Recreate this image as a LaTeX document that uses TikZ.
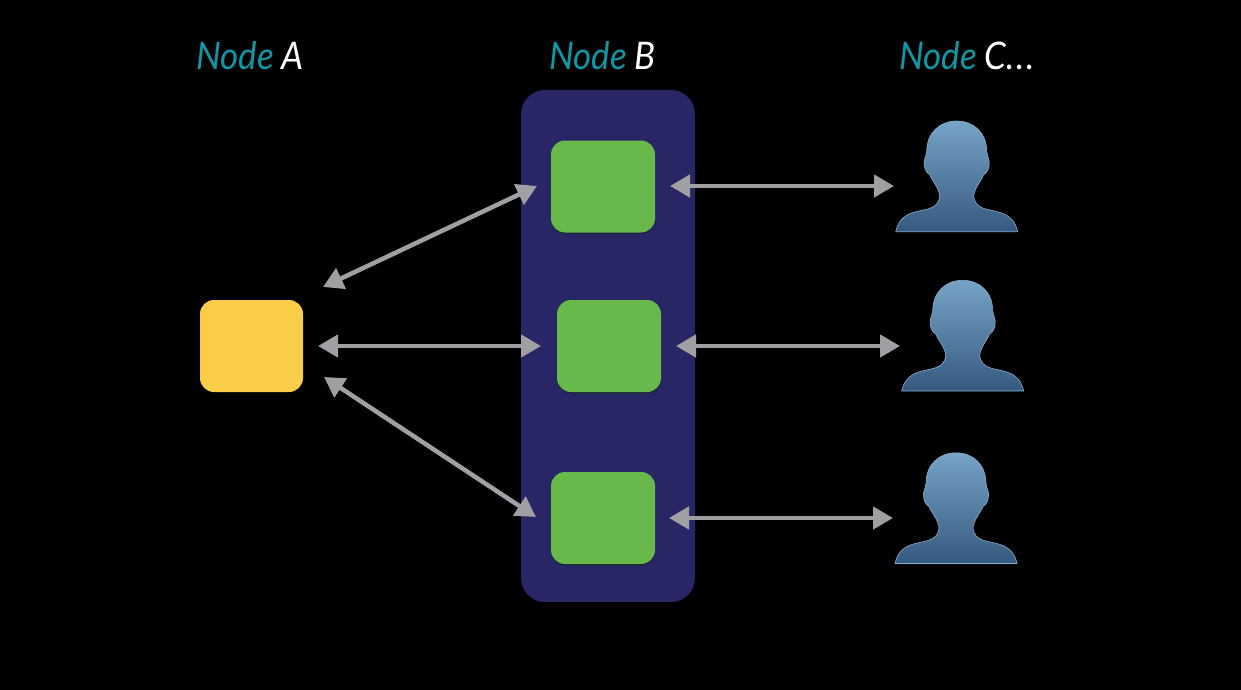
\documentclass[tikz,border=0pt]{standalone}
\usepackage{fontspec}
\setmainfont{Lato}
\usetikzlibrary{arrows.meta}
\definecolor{bgc}{HTML}{000000}
\definecolor{panelc}{HTML}{292666}
\definecolor{greenc}{HTML}{69B84C}
\definecolor{greenshadow}{HTML}{16263A}
\definecolor{yellowc}{HTML}{F9CD48}
\definecolor{arrowc}{HTML}{A0A0A4}
\definecolor{tealc}{HTML}{0F97A5}
\definecolor{persontop}{HTML}{76A3C6}
\definecolor{personbot}{HTML}{36597F}
\definecolor{personedge}{HTML}{86AFCF}
\tikzset{
  panelbox/.style={fill=panelc,rounded corners=24pt,minimum width=174pt,minimum height=512pt,inner sep=0pt},
  greenbox/.style={fill=greenc,rounded corners=14pt,minimum width=104pt,minimum height=92pt,inner sep=0pt},
  greenback/.style={fill=greenshadow,rounded corners=14pt,minimum width=104pt,minimum height=92pt,inner sep=0pt},
  yellowbox/.style={fill=yellowc,rounded corners=14pt,minimum width=103pt,minimum height=92pt,inner sep=0pt},
  link/.style={draw=arrowc,line width=4.5pt,{Triangle[length=20pt,width=22pt]}-{Triangle[length=20pt,width=22pt]}},
  title/.style={inner sep=0pt,anchor=center,text=tealc,font=\itshape\fontsize{38}{38}\selectfont,xscale=.92},
  person/.pic={
    \path[top color=persontop,bottom color=personbot,draw=personedge,line width=.6pt,line join=round]
      (-61,0) .. controls (-59,-9) and (-54,-16) .. (-44,-19)
      .. controls (-33,-23) and (-18,-21) .. (-17,-36)
      .. controls (-18,-44) and (-24,-50) .. (-27,-57)
      .. controls (-31,-59) and (-33,-65) .. (-32.5,-70)
      .. controls (-32,-75) and (-30,-76) .. (-30,-80)
      .. controls (-30,-99) and (-17,-110.7) .. (0,-110.7)
      .. controls (17,-110.7) and (30,-99) .. (30,-80)
      .. controls (30,-76) and (32,-75) .. (32.5,-70)
      .. controls (33,-65) and (31,-59) .. (27,-57)
      .. controls (24,-50) and (18,-44) .. (17,-36)
      .. controls (18,-21) and (33,-23) .. (44,-19)
      .. controls (54,-16) and (59,-9) .. (61,0) -- cycle;
  }
}
\begin{document}
\begin{tikzpicture}[x=1pt,y=-1pt]
\fill[bgc] (0,0) rectangle (1241,690);
\useasboundingbox (0,0) rectangle (1241,690);

\node[title] (ta) at (250,56) {Node \textcolor{white}{A}};
\node[title] (tb) at (602.5,56) {Node \textcolor{white}{B}};
\node[title] (tc) at (967,56) {Node \textcolor{white}{C.\kern2pt.\kern2pt.}};

\node[panelbox] (panel) at (608,346) {};
\node[yellowbox] (a) at (251.5,346) {};
\node[greenback] (b1s) at (603,188) {};
\node[greenback] (b2s) at (609,347.5) {};
\node[greenback] (b3s) at (603,519.5) {};
\node[greenbox] (b1) at (603,186.5) {};
\node[greenbox] (b2) at (609,346) {};
\node[greenbox] (b3) at (603,518) {};

\pic (p1) at (956.7,231.7) {person};
\pic (p2) at (962.7,391) {person};
\pic (p3) at (956,563.5) {person};

\coordinate (a1) at (323,287);
\coordinate (a2) at (318,346);
\coordinate (a3) at (324,377);
\coordinate (b1l) at (537,186);
\coordinate (b2l) at (541,346);
\coordinate (b3l) at (536,517);
\coordinate (b1r) at (670,186);
\coordinate (b2r) at (676,346);
\coordinate (b3r) at (669,518);
\coordinate (c1) at (894,186);
\coordinate (c2) at (900,346);
\coordinate (c3) at (893,518);

\draw[link] (a1) -- (b1l);
\draw[link] (a2) -- (b2l);
\draw[link] (a3) -- (b3l);
\draw[link] (b1r) -- (c1);
\draw[link] (b2r) -- (c2);
\draw[link] (b3r) -- (c3);
\end{tikzpicture}
\end{document}
